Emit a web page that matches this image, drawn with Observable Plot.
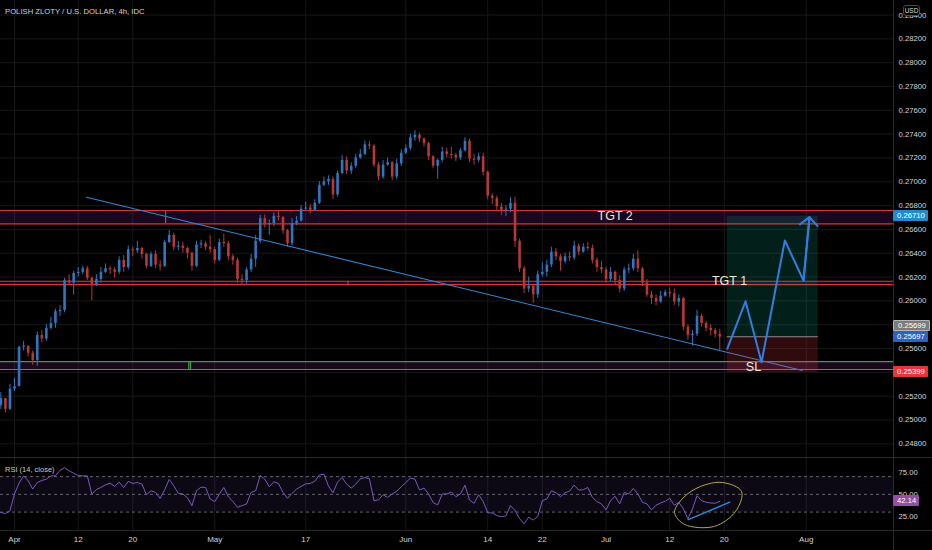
<!DOCTYPE html>
<html>
<head>
<meta charset="utf-8">
<script src="https://cdn.jsdelivr.net/npm/d3@7"></script>
<script src="https://cdn.jsdelivr.net/npm/@observablehq/plot@0.6"></script>
<style>
  html, body { margin: 0; padding: 0; background: #000; }
  #root { position: relative; width: 932px; height: 550px; overflow: hidden; background: #000;
          font-family: "Liberation Sans", Arial, sans-serif; }
  #root svg { position: absolute; left: 0; }
  .txt { position: absolute; white-space: nowrap; color: #d1d4dc; }
  .lbl { position: absolute; left: 893px; height: 11px; line-height: 11px; font-size: 7.7px;
         color: #fff; padding: 0 3px 0 4px; box-sizing: border-box; border-radius: 1px; }
  .sep { position: absolute; background: #2a2a2a; }
</style>
</head>
<body>
<div id="root"></div>
<script>
// ---------------- data ----------------
const title = "POLISH ZLOTY / U.S. DOLLAR, 4h, IDC";
const rsiTitle = "RSI (14, close)";
const currency = "USD";

// time axis: trading days counted from 1 Apr 2021 (weekends skipped)
const tickDays   = [0, 7, 13, 22, 32, 43, 52, 58, 65, 72, 78, 87];
const tickLabels = ["Apr", "12", "20", "May", "17", "Jun", "14", "22", "Jul", "12", "20", "Aug"];
const priceTicks = [0.248, 0.250, 0.252, 0.254, 0.256, 0.258, 0.260, 0.262, 0.264, 0.266,
                    0.268, 0.270, 0.272, 0.274, 0.276, 0.278, 0.280, 0.282, 0.284];
const rsiTicks = [25, 50, 75];
const rsiLevels = [70, 50, 30];

// candles (two per trading day), first one on 30 Mar
const firstBarDay = -1.5;
const barsPerDay = 2;
const firstOpen = 0.2512;
const closes = [
  0.2518,0.2509,0.2526,0.2528,0.2561,0.2562,0.2556,0.2550,0.2571,0.2568,
  0.2577,0.2581,0.2591,0.2592,0.2617,0.2615,0.2623,0.2624,0.2627,0.2619,
  0.2613,0.2618,0.2624,0.2627,0.2626,0.2624,0.2634,0.2628,0.2643,0.2642,
  0.2644,0.2639,0.2629,0.2639,0.2630,0.2629,0.2649,0.2655,0.2645,0.2646,
  0.2644,0.2640,0.2629,0.2647,0.2648,0.2645,0.2643,0.2634,0.2649,0.2648,
  0.2637,0.2634,0.2618,0.2617,0.2626,0.2635,0.2650,0.2669,0.2664,0.2665,
  0.2671,0.2670,0.2659,0.2648,0.2665,0.2667,0.2677,0.2678,0.2676,0.2682,
  0.2697,0.2700,0.2702,0.2689,0.2707,0.2718,0.2709,0.2713,0.2720,0.2723,
  0.2731,0.2730,0.2714,0.2704,0.2714,0.2716,0.2704,0.2715,0.2724,0.2728,
  0.2737,0.2739,0.2736,0.2732,0.2721,0.2713,0.2718,0.2725,0.2723,0.2722,
  0.2720,0.2726,0.2734,0.2719,0.2718,0.2721,0.2708,0.2688,0.2686,0.2679,
  0.2676,0.2677,0.2682,0.2650,0.2627,0.2610,0.2612,0.2605,0.2622,0.2624,
  0.2630,0.2641,0.2637,0.2633,0.2637,0.2636,0.2646,0.2641,0.2645,0.2644,
  0.2634,0.2628,0.2626,0.2618,0.2624,0.2617,0.2610,0.2626,0.2627,0.2635,
  0.2627,0.2615,0.2605,0.2602,0.2599,0.2604,0.2607,0.2606,0.2599,0.2602,
  0.2578,0.2571,0.2572,0.2587,0.2581,0.2577,0.2575,0.2572,0.25697];
const highs = [
  0.2523,0.2518,0.2530,0.2535,0.2562,0.2566,0.2562,0.2558,0.2574,0.2575,
  0.2580,0.2586,0.2593,0.2596,0.2619,0.2622,0.2625,0.2628,0.2629,0.2629,
  0.2620,0.2622,0.2628,0.2631,0.2629,0.2628,0.2637,0.2638,0.2646,0.2645,
  0.2650,0.2645,0.2640,0.2641,0.2642,0.2634,0.2651,0.2659,0.2657,0.2650,
  0.2649,0.2645,0.2641,0.2650,0.2651,0.2650,0.2655,0.2645,0.2652,0.2656,
  0.2650,0.2639,0.2636,0.2622,0.2628,0.2639,0.2655,0.2672,0.2672,0.2668,
  0.2674,0.2676,0.2671,0.2660,0.2669,0.2671,0.2680,0.2683,0.2681,0.2685,
  0.2700,0.2704,0.2705,0.2704,0.2709,0.2722,0.2721,0.2716,0.2723,0.2727,
  0.2734,0.2734,0.2731,0.2716,0.2718,0.2720,0.2717,0.2719,0.2727,0.2731,
  0.2740,0.2743,0.2741,0.2737,0.2733,0.2722,0.2719,0.2729,0.2728,0.2729,
  0.2724,0.2728,0.2737,0.2736,0.2723,0.2724,0.2724,0.2709,0.2690,0.2688,
  0.2682,0.2680,0.2687,0.2687,0.2652,0.2629,0.2620,0.2613,0.2625,0.2632,
  0.2634,0.2645,0.2644,0.2639,0.2640,0.2641,0.2650,0.2648,0.2648,0.2649,
  0.2647,0.2636,0.2633,0.2628,0.2628,0.2625,0.2621,0.2628,0.2631,0.2639,
  0.2642,0.2628,0.2618,0.2608,0.2605,0.2608,0.2609,0.2611,0.2610,0.2605,
  0.2603,0.2580,0.2575,0.2592,0.2589,0.2583,0.2580,0.2577,0.2576];
const lows = [
  0.2509,0.2506,0.2508,0.2524,0.2528,0.2558,0.2553,0.2546,0.2545,0.2565,
  0.2566,0.2576,0.2577,0.2587,0.2590,0.2613,0.2605,0.2620,0.2622,0.2617,
  0.2600,0.2612,0.2615,0.2623,0.2622,0.2619,0.2622,0.2624,0.2626,0.2637,
  0.2640,0.2635,0.2627,0.2628,0.2627,0.2625,0.2628,0.2648,0.2642,0.2642,
  0.2640,0.2635,0.2625,0.2628,0.2644,0.2642,0.2640,0.2631,0.2633,0.2645,
  0.2634,0.2630,0.2615,0.2613,0.2614,0.2624,0.2628,0.2648,0.2661,0.2655,
  0.2662,0.2667,0.2656,0.2645,0.2646,0.2663,0.2666,0.2675,0.2673,0.2675,
  0.2681,0.2696,0.2697,0.2685,0.2687,0.2706,0.2706,0.2706,0.2711,0.2719,
  0.2722,0.2727,0.2712,0.2701,0.2702,0.2713,0.2701,0.2702,0.2713,0.2723,
  0.2726,0.2734,0.2733,0.2729,0.2718,0.2711,0.2702,0.2716,0.2720,0.2719,
  0.2717,0.2718,0.2725,0.2716,0.2714,0.2716,0.2705,0.2685,0.2681,0.2676,
  0.2672,0.2671,0.2674,0.2645,0.2624,0.2606,0.2607,0.2598,0.2602,0.2620,
  0.2620,0.2628,0.2634,0.2625,0.2631,0.2633,0.2634,0.2638,0.2640,0.2642,
  0.2631,0.2624,0.2623,0.2615,0.2616,0.2613,0.2607,0.2608,0.2623,0.2625,
  0.2624,0.2612,0.2603,0.2597,0.2596,0.2598,0.2603,0.2603,0.2596,0.2595,
  0.2575,0.2567,0.2562,0.2570,0.2578,0.2574,0.2571,0.2569,0.2558];
const rsiValues = [
  29.5,28.4,31.5,50.4,62.7,70.9,65.3,56.0,63.4,65.7,
  67.2,70.9,70.9,77.2,80.2,76.5,73.9,71.3,70.9,70.9,
  50.4,55.6,57.8,60.8,62.7,59.0,63.8,57.8,64.6,62.3,
  63.4,61.6,49.6,54.1,52.2,45.5,55.2,66.8,59.7,51.1,
  50.4,46.3,37.3,54.1,58.2,57.8,44.8,41.8,50.0,57.8,
  47.4,41.8,35.4,37.3,39.2,52.2,54.1,71.3,67.2,58.6,
  64.2,62.3,52.2,45.5,51.1,56.0,59.0,61.9,62.3,64.9,
  72.0,72.8,59.3,51.9,63.8,69.0,61.6,57.1,61.6,67.5,
  69.0,67.5,42.9,43.7,49.6,46.6,50.4,53.4,58.6,63.4,
  68.3,67.2,54.9,57.1,50.4,40.7,38.1,50.4,50.4,52.6,
  47.4,50.4,60.4,43.7,39.9,49.6,42.2,29.1,29.1,26.1,
  24.6,25.7,37.3,31.9,22.6,16.8,24.3,20.9,25.0,42.9,
  44.8,54.1,51.9,47.4,51.9,53.7,60.4,54.9,55.2,57.8,
  46.6,41.8,39.2,32.5,42.9,47.8,39.2,52.2,50.4,56.7,
  50.4,41.0,39.2,32.5,37.7,40.3,42.2,45.5,37.7,41.0,
  33.6,22.4,33.6,48.5,42.9,41.0,40.3,40.0,42.14];

// horizontal zones drawn on the chart
const zoneLow   = [0.26647, 0.26137, 0.25424];
const zoneHigh  = [0.26759, 0.26165, 0.25491];
const zoneColor = ["#d8373a", "#d8373a", "#3e9b46"];
const zoneMarkDay  = [16.6, 36.65, 19.15, 19.34];
const zoneMarkZone = [0, 1, 2, 2];

// long position tool
const entryPrice = 0.25699, targetPrice = 0.26710, stopPrice = 0.25399, lastPrice = 0.25697;
const positionDays = [78.32, 88.32];

// descending trend line
const trendDays = [7.91, 86.56];
const trendPrices = [0.26871, 0.25416];

// projected path (blue arrow)
const pathDays   = [78.32, 80.33, 82.09, 84.65, 86.70, 87.36];
const pathPrices = [0.25598, 0.25997, 0.25485, 0.26507, 0.26171, 0.26703];

// text annotations
const noteText   = ["TGT 2", "TGT 1", "SL"];
const noteDays   = [66.0, 78.57, 81.2];
const notePrices = [0.26709, 0.26163, 0.25449];

// RSI annotations: ellipse and rising line
const ellipseDays = [72.53, 73.52, 75.38, 77.80, 79.89, 79.23, 76.92, 73.63];
const ellipseRsi  = [29.6, 46.5, 58.9, 63.4, 53.3, 30.7, 13.9, 16.1];
const rsiLineDays = [74.03, 78.60];
const rsiLineVals = [21.4, 41.2];
const lastRsi = 42.14;

// ---------------- build ----------------
const W = 932, MAIN_H = 458, RSI_H = 92, MR = 39;
const xDomain = [-1.54, 96.59];
const UP = "#2d76c2", DOWN = "#b83838";
const fontFamily = "'Liberation Sans', Arial, sans-serif";

const candles = closes.map((c, i) => ({
  day: firstBarDay + i / barsPerDay,
  open: i ? closes[i - 1] : firstOpen,
  close: c, high: highs[i], low: lows[i], rsi: rsiValues[i]
}));
const zones = zoneLow.map((lo, i) => ({lo, hi: zoneHigh[i], color: zoneColor[i]}));
const zoneLines = zones.flatMap(z => [{p: z.lo, color: z.color}, {p: z.hi, color: z.color}]);
const zoneMarks = zoneMarkDay.map((d, i) => ({day: d, lo: zones[zoneMarkZone[i]].lo, hi: zones[zoneMarkZone[i]].hi, color: zones[zoneMarkZone[i]].color}));
const trend = trendDays.map((d, i) => ({day: d, p: trendPrices[i]}));
const path = pathDays.map((d, i) => ({day: d, p: pathPrices[i]}));
const n = path.length;
const arrowSeg = [{x1: path[n - 2].day, y1: path[n - 2].p, x2: path[n - 1].day, y2: path[n - 1].p}];
const notes = noteText.map((t, i) => ({t, day: noteDays[i], p: notePrices[i]}));
const ellipse = ellipseDays.map((d, i) => ({day: d, r: ellipseRsi[i]}));
const rsiLine = rsiLineDays.map((d, i) => ({day: d, r: rsiLineVals[i]}));
const dir = d => d.close >= d.open ? UP : DOWN;

const main = Plot.plot({
  width: W, height: MAIN_H,
  marginLeft: 0, marginRight: MR, marginTop: 0, marginBottom: 0,
  style: {background: "transparent", color: "#d1d4dc", fontFamily, overflow: "visible"},
  x: {type: "linear", domain: xDomain, axis: null},
  y: {domain: [0.24677, 0.28522], axis: null},
  marks: [
    Plot.ruleX(tickDays, {stroke: "#181818"}),
    Plot.ruleY(priceTicks, {stroke: "#181818"}),
    Plot.rect(zones, {y1: "lo", y2: "hi", fill: "#9c27b0", fillOpacity: 0.17}),
    Plot.ruleY(zoneLines, {y: "p", stroke: "color", strokeWidth: 1.2}),
    Plot.ruleX(zoneMarks, {x: "day", y1: "lo", y2: "hi", stroke: "color", strokeWidth: 1.2}),
    Plot.ruleX(candles, {x: "day", y1: "low", y2: "high", stroke: dir, strokeWidth: 1}),
    Plot.ruleX(candles, {x: "day", y1: "open", y2: "close", stroke: dir, strokeWidth: 2.6}),
    Plot.line(trend, {x: "day", y: "p", stroke: "#3487d4", strokeWidth: 1.1}),
    Plot.rect([{a: positionDays[0], b: positionDays[1], lo: entryPrice, hi: targetPrice}],
      {x1: "a", x2: "b", y1: "lo", y2: "hi", fill: "#089981", fillOpacity: 0.2}),
    Plot.rect([{a: positionDays[0], b: positionDays[1], lo: stopPrice, hi: entryPrice}],
      {x1: "a", x2: "b", y1: "lo", y2: "hi", fill: "#f23645", fillOpacity: 0.2}),
    Plot.ruleY([entryPrice], {x1: positionDays[0], x2: positionDays[1], stroke: "#8a8d96", strokeWidth: 1}),
    Plot.line(path, {x: "day", y: "p", stroke: "#2f7fe0", strokeWidth: 2}),
    Plot.arrow(arrowSeg, {x1: "x1", y1: "y1", x2: "x2", y2: "y2", stroke: "#2f7fe0", strokeWidth: 2, headLength: 9, headAngle: 95}),
    Plot.text(notes, {x: "day", y: "p", text: "t", fill: "#ebe8d8", fontSize: 12.5, fontFamily}),
    Plot.axisY(priceTicks, {anchor: "right", tickSize: 0, tickPadding: 5, tickFormat: d3.format(".5f"), fontSize: 7.7, label: null})
  ]
});

const rsiPlot = Plot.plot({
  width: W, height: RSI_H,
  marginLeft: 0, marginRight: MR, marginTop: 0, marginBottom: 20,
  style: {background: "transparent", color: "#d1d4dc", fontFamily, overflow: "visible"},
  x: {type: "linear", domain: xDomain, axis: null},
  y: {domain: [9.2, 90.5], axis: null},
  marks: [
    Plot.ruleX(tickDays, {stroke: "#181818"}),
    Plot.rect([{lo: rsiLevels[2], hi: rsiLevels[0]}], {y1: "lo", y2: "hi", fill: "#7e57c2", fillOpacity: 0.1}),
    Plot.ruleY(rsiLevels, {stroke: "#787b86", strokeOpacity: 0.8, strokeDasharray: "3,3"}),
    Plot.line(candles, {x: "day", y: "rsi", stroke: "#7e57c2", strokeWidth: 1}),
    Plot.line(ellipse, {x: "day", y: "r", curve: "catmull-rom-closed", stroke: "#b3a64c", strokeWidth: 1}),
    Plot.line(rsiLine, {x: "day", y: "r", stroke: "#2b8de0", strokeWidth: 1.4}),
    Plot.axisY(rsiTicks, {anchor: "right", tickSize: 0, tickPadding: 5, tickFormat: d3.format(".2f"), fontSize: 7.7, label: null}),
    Plot.axisX(tickDays, {anchor: "bottom", tickSize: 0, tickPadding: 6, fontSize: 8, label: null,
      tickFormat: d => tickLabels[tickDays.indexOf(d)]})
  ]
});

const root = document.getElementById("root");
main.style.top = "0px";
rsiPlot.style.top = MAIN_H + "px";
root.appendChild(main);
root.appendChild(rsiPlot);

function addDiv(cls, css, text) {
  const el = document.createElement("div");
  el.className = cls;
  Object.assign(el.style, css);
  if (text != null) el.textContent = text;
  root.appendChild(el);
  return el;
}
// separators
addDiv("sep", {left: (W - MR) + "px", top: "0px", width: "1px", height: "550px"});
addDiv("sep", {left: "0px", top: (MAIN_H - 1) + "px", width: W + "px", height: "1px"});
addDiv("sep", {left: "0px", top: (MAIN_H + RSI_H - 20) + "px", width: W + "px", height: "1px"});

// texts
addDiv("txt", {left: "5px", top: "7px", fontSize: "7.7px", lineHeight: "10px"}, title);
addDiv("txt", {left: "5px", top: "465px", fontSize: "7.5px", lineHeight: "10px", color: "#c9c9c9"}, rsiTitle);
addDiv("txt", {left: "903px", top: "5px", width: "17px", height: "11px", lineHeight: "10px", fontSize: "6.5px",
  textAlign: "center", border: "1px solid #4a4a4a", borderRadius: "3px", background: "#000", boxSizing: "border-box", color: "#ddd"}, currency);

// price labels on the right axis
const ym = main.scale("y"), yr = rsiPlot.scale("y");
const fmt5 = d3.format(".5f");
function priceLabel(v, yPx, bg, border) {
  addDiv("lbl", {top: (yPx - 5.5) + "px", background: bg, border: border ? "1px solid " + border : "none", lineHeight: border ? "9px" : "11px"}, v);
}
priceLabel(fmt5(targetPrice), ym.apply(targetPrice), "#1f8fc3");
priceLabel(fmt5(entryPrice), ym.apply(lastPrice) - 11.5, "#7b7b7b", "#b5b5b5");
priceLabel(fmt5(lastPrice), ym.apply(lastPrice), "#2a62c6");
priceLabel(fmt5(stopPrice), ym.apply(stopPrice), "#e0393c");
priceLabel(d3.format(".2f")(lastRsi), MAIN_H + yr.apply(lastRsi), "#9450a0");
</script>
</body>
</html>
